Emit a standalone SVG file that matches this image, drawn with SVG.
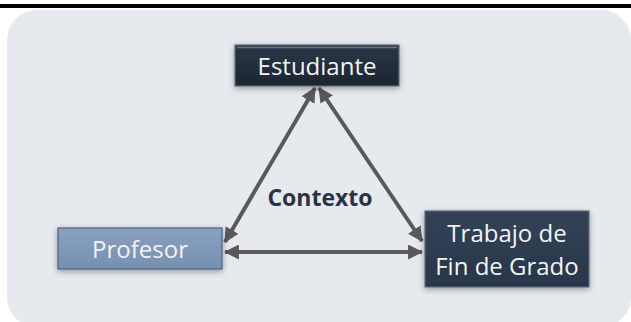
<svg xmlns="http://www.w3.org/2000/svg" width="631" height="322" viewBox="0 0 631 322">
  <style>
    .lbl { font-family: "Open Sans", "Liberation Sans", sans-serif; font-size: 24px; fill: #f2f4f6; text-anchor: middle; }
    .ctx { font-family: "Open Sans", "Liberation Sans", sans-serif; font-size: 23px; font-weight: bold; fill: #2a3345; text-anchor: middle; }
    .conn { stroke: #595959; stroke-width: 4; fill: none; marker-start: url(#ah); marker-end: url(#ah); }
  </style>
  <defs>
    <marker id="ah" viewBox="0 0 14 14" refX="13" refY="7" markerWidth="15" markerHeight="15" markerUnits="userSpaceOnUse" orient="auto-start-reverse">
      <path d="M0,0 L14,7 L0,14 z" fill="#595959"/>
    </marker>
    <filter id="sh" x="-20%" y="-30%" width="140%" height="160%">
      <feGaussianBlur in="SourceAlpha" stdDeviation="3"/>
      <feOffset dx="0" dy="2" result="b"/>
      <feComponentTransfer><feFuncA type="linear" slope="0.35"/></feComponentTransfer>
      <feMerge><feMergeNode/><feMergeNode in="SourceGraphic"/></feMerge>
    </filter>
    <linearGradient id="gDark" x1="0" y1="0" x2="0" y2="1">
      <stop offset="0" stop-color="#2a3646"/>
      <stop offset="1" stop-color="#1c2633"/>
    </linearGradient>
    <linearGradient id="gDark2" x1="0" y1="0" x2="0" y2="1">
      <stop offset="0" stop-color="#334256"/>
      <stop offset="1" stop-color="#28364a"/>
    </linearGradient>
    <linearGradient id="gBlue" x1="0" y1="0" x2="0" y2="1">
      <stop offset="0" stop-color="#8aa1bf"/>
      <stop offset="1" stop-color="#7690b2"/>
    </linearGradient>
  </defs>

  <rect x="0" y="0" width="631" height="322" fill="#ffffff"/>
  <rect x="0" y="4" width="631" height="4" fill="#000000"/>
  <rect id="panel" x="7" y="10" width="624" height="317" rx="30" ry="30" fill="#e6e9ed"/>

  <g id="connectors">
    <line class="conn" x1="315" y1="88" x2="225" y2="242"/>
    <line class="conn" x1="319" y1="88" x2="422" y2="241"/>
    <line class="conn" x1="225" y1="252" x2="422" y2="252"/>
  </g>

  <g id="contexto">
    <text class="ctx" x="320" y="206">Contexto</text>
  </g>

  <g id="estudiante">
    <rect x="235" y="45" width="164" height="41" fill="url(#gDark)" stroke="#5f6b79" stroke-width="1.2" filter="url(#sh)"/>
    <line x1="237" y1="47.5" x2="397" y2="47.5" stroke="#6d7886" stroke-width="1.5"/>
    <text class="lbl" x="317" y="75">Estudiante</text>
  </g>

  <g id="profesor">
    <rect x="58" y="228" width="164" height="41" fill="url(#gBlue)" stroke="#4d6282" stroke-width="1.2" filter="url(#sh)"/>
    <text class="lbl" x="140" y="258">Profesor</text>
  </g>

  <g id="tfg">
    <rect x="425" y="211" width="164" height="76" fill="url(#gDark2)" stroke="#5f6b79" stroke-width="1.2" filter="url(#sh)"/>
    <text class="lbl" x="507" y="242">Trabajo de</text>
    <text class="lbl" x="507" y="275">Fin de Grado</text>
  </g>
</svg>
